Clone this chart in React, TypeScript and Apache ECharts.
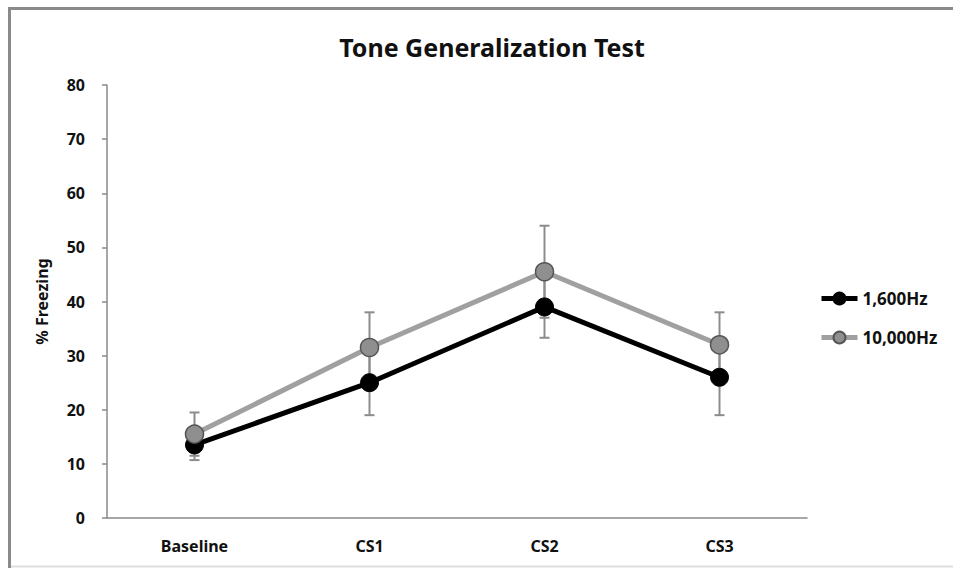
import React, { useEffect, useRef } from "react";
import * as echarts from "echarts";

const categories = ["Baseline", "CS1", "CS2", "CS3"];
const seriesNames = ["1,600Hz", "10,000Hz"];
const lowFreq = [13.5, 25, 39, 26];
const lowFreqErr = [2.8, 6, 5.7, 7];
const highFreq = [15.5, 31.5, 45.5, 32];
const highFreqErr = [4, 6.5, 8.5, 6];
const yTicks = { min: 0, max: 80, interval: 10 };

const FONT = "'Noto Sans', 'Open Sans', sans-serif";

function errData(vals: number[], errs: number[]) {
  return vals.map((v, i) => [i, v - errs[i], v + errs[i]]);
}

function errSeries(name: string, vals: number[], errs: number[]) {
  return {
    type: "custom",
    name: name + " err",
    z: 1,
    silent: true,
    data: errData(vals, errs),
    renderItem: (params: any, api: any) => {
      const x = api.value(0);
      const lo = api.coord([x, api.value(1)]);
      const hi = api.coord([x, api.value(2)]);
      const cap = 5;
      const style = { stroke: "#8c8c8c", lineWidth: 2 };
      return {
        type: "group",
        children: [
          { type: "line", shape: { x1: lo[0], y1: lo[1], x2: hi[0], y2: hi[1] }, style },
          { type: "line", shape: { x1: lo[0] - cap, y1: lo[1], x2: lo[0] + cap, y2: lo[1] }, style },
          { type: "line", shape: { x1: hi[0] - cap, y1: hi[1], x2: hi[0] + cap, y2: hi[1] }, style },
        ],
      };
    },
  };
}

export default function App() {
  const ref = useRef<HTMLDivElement>(null);
  useEffect(() => {
    document.body.style.margin = "0";
    const chart = echarts.init(ref.current!, null, { renderer: "svg" });
    chart.setOption({
      animation: false,
      backgroundColor: "#ffffff",
      title: {
        text: "Tone Generalization Test",
        left: 487,
        textAlign: "center",
        top: 29,
        textStyle: { fontFamily: FONT, fontWeight: "bold", fontSize: 25, color: "#111" },
      },
      legend: {
        orient: "vertical",
        left: 814,
        top: 285,
        itemWidth: 36,
        itemHeight: 15,
        itemGap: 22,
        data: seriesNames,
        lineStyle: { width: 5 },
        textStyle: { fontFamily: FONT, fontWeight: "bold", fontSize: 17, color: "#111" },
      },
      grid: { left: 107, right: 146, top: 85, bottom: 50 },
      xAxis: {
        type: "category",
        data: categories,
        boundaryGap: true,
        axisLine: { lineStyle: { color: "#8a8a8a", width: 1.5 } },
        axisTick: { show: false },
        axisLabel: { fontFamily: FONT, fontWeight: "bold", fontSize: 16, color: "#111", margin: 20 },
      },
      yAxis: {
        type: "value",
        min: yTicks.min,
        max: yTicks.max,
        interval: yTicks.interval,
        name: "% Freezing",
        nameLocation: "middle",
        nameGap: 57,
        nameRotate: 90,
        nameTextStyle: { fontFamily: FONT, fontWeight: "bold", fontSize: 16, color: "#111" },
        axisLine: { show: true, lineStyle: { color: "#8a8a8a", width: 1.5 } },
        axisTick: { show: true, length: 5, lineStyle: { color: "#8a8a8a", width: 1.5 } },
        splitLine: { show: false },
        axisLabel: { fontFamily: FONT, fontWeight: "bold", fontSize: 16, color: "#111", margin: 22 },
      },
      graphic: [
        { type: "line", shape: { x1: 9.5, y1: 8, x2: 9.5, y2: 568 }, style: { stroke: "#8a8a8a", lineWidth: 3 } },
        { type: "line", shape: { x1: 8, y1: 8.5, x2: 953, y2: 8.5 }, style: { stroke: "#8a8a8a", lineWidth: 3 } },
        { type: "line", shape: { x1: 11, y1: 566.5, x2: 953, y2: 566.5 }, style: { stroke: "#dddddd", lineWidth: 2 } },
      ],
      series: [
        errSeries(seriesNames[0], lowFreq, lowFreqErr),
        errSeries(seriesNames[1], highFreq, highFreqErr),
        {
          type: "line",
          name: seriesNames[0],
          data: lowFreq,
          z: 3,
          symbol: "circle",
          symbolSize: 18,
          lineStyle: { color: "#000", width: 5 },
          itemStyle: { color: "#000", borderColor: "#000", borderWidth: 1 },
        },
        {
          type: "line",
          name: seriesNames[1],
          data: highFreq,
          z: 4,
          symbol: "circle",
          symbolSize: 18,
          lineStyle: { color: "#a0a0a0", width: 5 },
          itemStyle: { color: "#8f8f8f", borderColor: "#555", borderWidth: 1.5 },
        },
      ],
    });
    return () => chart.dispose();
  }, []);
  return <div ref={ref} style={{ width: 953, height: 568 }} />;
}
